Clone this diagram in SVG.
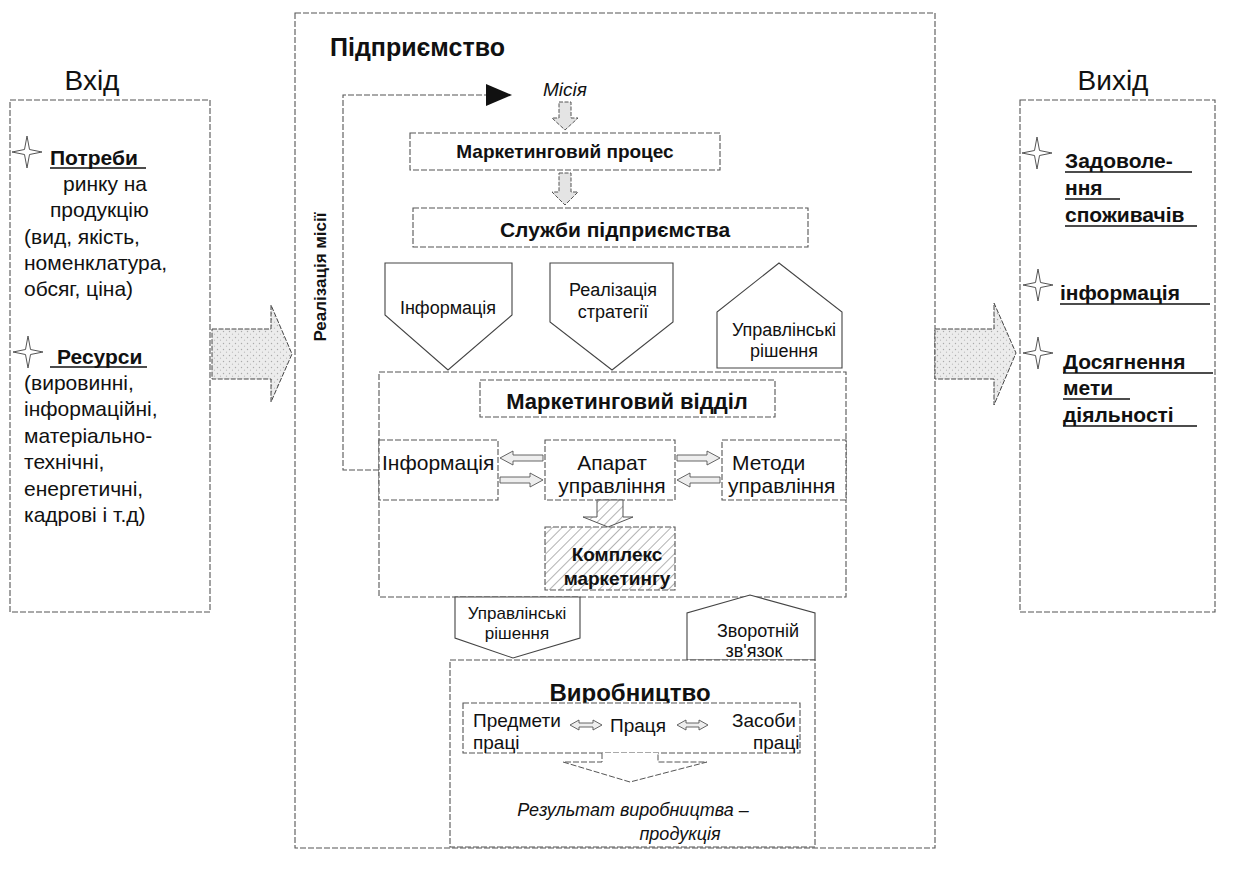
<svg xmlns="http://www.w3.org/2000/svg" width="1236" height="878" viewBox="0 0 1236 878">
<style>
text{font-family:"Liberation Sans",Arial,sans-serif;fill:#111}
.box{fill:#fff;stroke:#555;stroke-width:1.1;stroke-dasharray:6 2}
.boxn{fill:none;stroke:#555;stroke-width:1.1;stroke-dasharray:6 2}
.pent{fill:#fff;stroke:#444;stroke-width:1.1}
.t18{font-size:18px}
.t19{font-size:19px}
.t21{font-size:21px}
.lt{font-size:21px}
.rt{font-size:21px;font-weight:bold}
.b{font-weight:bold}
.it{font-style:italic}
.m{text-anchor:middle}
.ul{stroke:#111;stroke-width:1.6}
.star{fill:#fff;stroke:#555;stroke-width:1}
.harrow{fill:#e4e4e4;stroke:#555;stroke-width:1;stroke-dasharray:4 1.5}
.small{fill:#eee;stroke:#555;stroke-width:0.9}
</style>
<defs>
<path id="star" d="M0,-16 L2.5,-2.5 L15,0 L2.5,2.5 L0,16 L-2.5,2.5 L-15,0 L-2.5,-2.5 Z"/>
<pattern id="hatch" width="7" height="7" patternUnits="userSpaceOnUse" patternTransform="rotate(45)">
<rect width="7" height="7" fill="#fff"/>
<line x1="0" y1="0" x2="0" y2="7" stroke="#666" stroke-width="1"/>
</pattern>
<pattern id="stip" width="6" height="6" patternUnits="userSpaceOnUse">
<rect width="6" height="6" fill="#ececec"/>
<circle cx="1.5" cy="1.5" r="0.7" fill="#aaa"/>
<circle cx="4.5" cy="4.2" r="0.6" fill="#bbb"/>
</pattern>
</defs>

<!-- Input column -->
<g id="input">
<text x="92" y="90" class="m" font-size="28">Вхід</text>
<rect class="box" x="10" y="100" width="200" height="512"/>
<use href="#star" x="27" y="152" class="star"/>
<text x="50" y="165" class="lt b">Потреби</text>
<line class="ul" x1="50" y1="168" x2="146" y2="168"/>
<text x="63" y="191" class="lt">ринку на</text>
<text x="50" y="217" class="lt">продукцію</text>
<text x="24" y="244" class="lt">(вид, якість,</text>
<text x="24" y="270" class="lt">номенклатура,</text>
<text x="24" y="296" class="lt">обсяг, ціна)</text>
<use href="#star" x="28" y="352" class="star"/>
<text x="57" y="364" class="lt b">Ресурси</text>
<line class="ul" x1="50" y1="367" x2="147" y2="367"/>
<text x="24" y="390" class="lt">(вировинні,</text>
<text x="24" y="416" class="lt">інформаційні,</text>
<text x="24" y="443" class="lt">матеріально-</text>
<text x="24" y="469" class="lt">технічні,</text>
<text x="24" y="496" class="lt">енергетичні,</text>
<text x="24" y="522" class="lt">кадрові і т.д)</text>
</g>

<!-- Output column -->
<g id="output">
<text x="1113" y="90" class="m" font-size="28">Вихід</text>
<rect class="box" x="1020" y="100" width="195" height="512"/>
<use href="#star" x="1037" y="153" class="star"/>
<text x="1065" y="168" class="rt">Задоволе-</text>
<line class="ul" x1="1065" y1="172" x2="1192" y2="172"/>
<text x="1065" y="195" class="rt">ння</text>
<line class="ul" x1="1065" y1="199" x2="1120" y2="199"/>
<text x="1065" y="222" class="rt">споживачів</text>
<line class="ul" x1="1065" y1="226" x2="1197" y2="226"/>
<use href="#star" x="1038" y="285" class="star"/>
<text x="1060" y="300" class="rt">інформація</text>
<line class="ul" x1="1060" y1="304" x2="1210" y2="304"/>
<use href="#star" x="1038" y="353" class="star"/>
<text x="1063" y="369" class="rt">Досягнення</text>
<line class="ul" x1="1063" y1="373" x2="1213" y2="373"/>
<text x="1063" y="395" class="rt">мети</text>
<line class="ul" x1="1063" y1="399" x2="1130" y2="399"/>
<text x="1063" y="422" class="rt">діяльності</text>
<line class="ul" x1="1063" y1="426" x2="1197" y2="426"/>
</g>

<!-- Enterprise -->
<g id="enterprise">
<rect class="box" x="295" y="13" width="640" height="835"/>
<text x="330" y="56" font-size="25" class="b">Підприємство</text>
<text x="326" y="277" class="b m" font-size="17" transform="rotate(-90 326 277)">Реалізація місії</text>
</g>

<g id="mission">
<text x="565" y="96" class="t19 it m">Місія</text>
</g>

<g id="marketing-process">
<rect class="box" x="410" y="133" width="310" height="37"/>
<text x="565" y="158" class="t19 b m">Маркетинговий процес</text>
</g>

<g id="services">
<rect class="box" x="413" y="208" width="395" height="39"/>
<text x="615" y="237" class="b m" font-size="21">Служби підприємства</text>
</g>

<g id="info-pent">
<polygon class="pent" points="385,263 512,263 512,315 448,370 385,315"/>
<text x="448" y="314" class="t18 m">Інформація</text>
</g>

<g id="strategy-pent">
<polygon class="pent" points="550,263 673,263 673,322 612,370 550,322"/>
<text x="613" y="296" class="t18 m">Реалізація</text>
<text x="613" y="318" class="t18 m">стратегії</text>
</g>

<g id="mgmt-pent-top">
<polygon class="pent" points="717,368 717,312 779,263 842,312 842,368"/>
<text x="784" y="336" class="t18 m">Управлінські</text>
<text x="784" y="357" class="t18 m">рішення</text>
</g>

<g id="marketing-dept">
<rect class="box" x="379" y="372" width="467" height="225"/>
<rect class="box" x="480" y="380" width="295" height="37"/>
<text x="627" y="409" class="b m" font-size="22">Маркетинговий відділ</text>
</g>

<g id="info-box">
<rect class="box" x="379" y="440" width="119" height="60"/>
<text x="382" y="470" class="t21">Інформація</text>
</g>

<g id="apparatus">
<rect class="box" x="545" y="440" width="130" height="60"/>
<text x="612" y="470" class="t21 m">Апарат</text>
<text x="612" y="493" class="t21 m">управління</text>
</g>

<g id="methods">
<rect class="box" x="722" y="440" width="124" height="60"/>
<text x="732" y="470" class="t21">Методи</text>
<text x="728" y="493" class="t21">управління</text>
</g>

<g id="complex">
<rect x="545" y="527" width="130" height="63" fill="url(#hatch)" stroke="#555" stroke-width="1.1" stroke-dasharray="6 2"/>
<text x="617" y="561" class="t19 b m">Комплекс</text>
<text x="617" y="585" class="t19 b m">маркетингу</text>
</g>

<g id="mgmt-pent-bottom">
<polygon class="pent" points="455,597 580,597 580,638 513,658 455,638"/>
<text x="517" y="619" class="m" font-size="17">Управлінські</text>
<text x="517" y="639" class="m" font-size="17">рішення</text>
</g>

<g id="feedback-pent">
<polygon class="pent" points="687,660 687,613 750,595 815,613 815,660"/>
<text x="758" y="637" class="t18 m">Зворотній</text>
<text x="754" y="657" class="t18 m">зв'язок</text>
</g>

<g id="production">
<rect class="box" x="450" y="660" width="365" height="187"/>
<text x="630" y="701" class="b m" font-size="24">Виробництво</text>
<rect class="box" x="463" y="703" width="337" height="50"/>
<text x="473" y="727" class="t19">Предмети</text>
<text x="473" y="749" class="t19">праці</text>
<text x="638" y="732" class="t19 m">Праця</text>
<text x="732" y="727" class="t19">Засоби</text>
<text x="753" y="749" class="t19">праці</text>
<text x="633" y="816" class="t18 it m">Результат виробництва –</text>
<text x="680" y="840" class="t18 it m">продукція</text>
</g>

<g id="connectors">
<!-- big input/output arrows -->
<polygon points="212,329 271,329 271,305 292,354 271,402 271,379 212,379" fill="url(#stip)" stroke="#444" stroke-width="1" stroke-dasharray="5 1.5"/>
<polygon points="935,329 994,329 994,303 1016,353 994,405 994,379 935,379" fill="url(#stip)" stroke="#444" stroke-width="1" stroke-dasharray="5 1.5"/>
<!-- mission loop -->
<polyline class="boxn" points="379,470 343,470 343,95 488,95"/>
<polygon points="486,84 512,95 486,106" fill="#111"/>
<!-- down arrows -->
<polygon class="harrow" points="559,102 571,102 571,118 578,118 565,130 552,118 559,118"/>
<polygon class="harrow" points="559,173 571,173 571,192 578,192 565,205 552,192 559,192"/>
<!-- info <-> apparatus -->
<polygon class="small" points="543,455 513,455 513,451 500,458 513,465 513,461 543,461"/>
<polygon class="small" points="500,477 530,477 530,473 543,480 530,487 530,483 500,483"/>
<!-- apparatus <-> methods -->
<polygon class="small" points="677,455 707,455 707,451 720,458 707,465 707,461 677,461"/>
<polygon class="small" points="720,477 690,477 690,473 677,480 690,487 690,483 720,483"/>
<!-- hatched arrow -->
<polygon points="597,500 623,500 623,517 633,517 608,527 583,517 597,517" fill="url(#hatch)" stroke="#555" stroke-width="1"/>
<!-- production double arrows -->
<polygon class="small" points="570,725 579,720 579,723 593,723 593,720 602,725 593,730 593,727 579,727 579,730"/>
<polygon class="small" points="677,725 686,720 686,723 699,723 699,720 708,725 699,730 699,727 686,727 686,730"/>
<!-- result arrow -->
<polyline points="602,753 602,762 563,762 630,782 707,762 658,762 658,753" fill="#fff" stroke="#555" stroke-width="1" stroke-dasharray="6 2"/>
</g>
</svg>
